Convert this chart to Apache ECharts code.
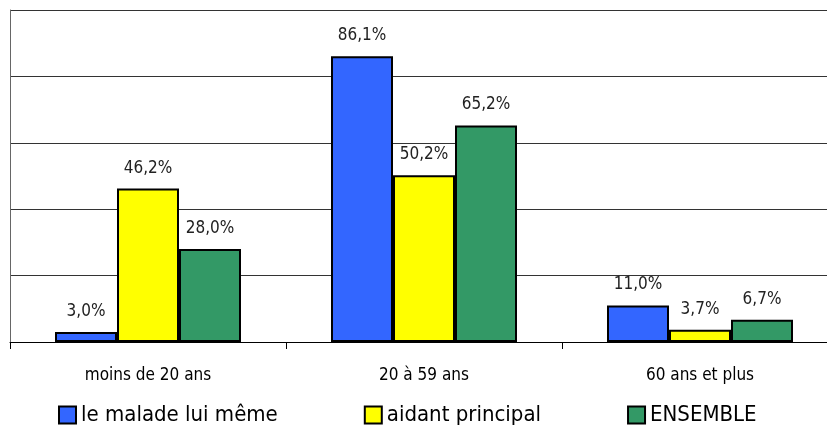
<!DOCTYPE html>
<html>
<head>
<meta charset="utf-8">
<script src="https://cdn.jsdelivr.net/npm/echarts@6/dist/echarts.min.js"></script>
<style>
  html, body { margin: 0; padding: 0; background: #fff; overflow: hidden; }
  #chart { width: 838px; height: 425px; }
</style>
</head>
<body>
<div id="chart"></div>
<script>
// Age groups on the category axis
const categories = ['moins de 20 ans', '20 à 59 ans', '60 ans et plus'];

// Share of each respondent group (%)
const seriesNames = ['le malade lui même', 'aidant principal', 'ENSEMBLE'];
const maladeValues = [3.0, 86.1, 11.0];
const aidantValues = [46.2, 50.2, 3.7];
const ensembleValues = [28.0, 65.2, 6.7];

const seriesColors = ['#3366FF', '#FFFF00', '#339966'];
const FONT = "'DejaVu Sans Condensed', 'Liberation Sans', sans-serif";

const fmt = p => p.value.toFixed(1).replace('.', ',') + '%';

function barSeries(name, data, color) {
  return {
    name: name,
    type: 'bar',
    data: data,
    barWidth: 62,
    barGap: '0%',
    itemStyle: { color: color, borderColor: '#000', borderWidth: 2 },
    label: {
      show: true,
      position: 'top',
      distance: 12,
      formatter: fmt,
      fontFamily: FONT,
      fontSize: 17,
      color: '#222'
    }
  };
}

const chart = echarts.init(document.getElementById('chart'));
chart.setOption({
  animation: false,
  backgroundColor: '#fff',
  grid: { left: 10, top: 10, right: 0, bottom: 83, containLabel: false },
  legend: {
    data: seriesNames,
    left: 58,
    top: 404,
    padding: 0,
    itemWidth: 17,
    itemHeight: 17,
    itemGap: 86,
    icon: 'rect',
    itemStyle: { borderColor: '#000', borderWidth: 2 },
    textStyle: { fontFamily: FONT, fontSize: 22, color: '#000' }
  },
  xAxis: {
    type: 'category',
    data: categories,
    axisLine: { lineStyle: { color: '#000', width: 1 } },
    axisTick: { show: true, length: 7, lineStyle: { color: '#000' } },
    axisLabel: { margin: 25, fontFamily: FONT, fontSize: 17, color: '#000' }
  },
  yAxis: {
    type: 'value',
    min: 0,
    max: 100,
    interval: 20,
    axisLine: { show: true, lineStyle: { color: '#666' } },
    axisTick: { show: false },
    axisLabel: { show: false },
    splitLine: { show: true, lineStyle: { color: '#333', width: 1 } }
  },
  series: [
    barSeries(seriesNames[0], maladeValues, seriesColors[0]),
    barSeries(seriesNames[1], aidantValues, seriesColors[1]),
    barSeries(seriesNames[2], ensembleValues, seriesColors[2])
  ]
});
</script>
</body>
</html>
